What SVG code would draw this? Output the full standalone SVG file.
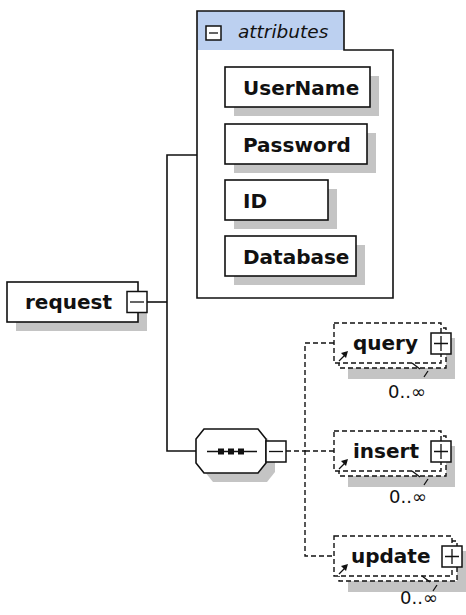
<svg xmlns="http://www.w3.org/2000/svg" width="466" height="615" viewBox="0 0 466 615">
<style>
.bg{fill:#fff}
.box{fill:#fff;stroke:#111;stroke-width:1.6}
.shadow{fill:#c4c4c4}
.dbox{fill:#fff;stroke:#111;stroke-width:1.4;stroke-dasharray:5 3}
.line{stroke:#111;stroke-width:1.6;fill:none}
.dline{stroke:#111;stroke-width:1.4;stroke-dasharray:5 3;fill:none}
.thin{stroke:#111;stroke-width:1.3;fill:none}
.name{font-family:"DejaVu Sans",sans-serif;font-weight:bold;font-size:20px;fill:#111}
.tab{font-family:"DejaVu Sans",sans-serif;font-style:italic;font-size:18.5px;fill:#111}
.occ{font-family:"DejaVu Sans",sans-serif;font-size:18px;fill:#111}
.btn{fill:#fff;stroke:#111;stroke-width:1.5}
</style>
<rect class="bg" x="0" y="0" width="466" height="615"/>

<g id="connectors">
  <polyline class="line" points="147,302 167,302"/>
  <polyline class="line" points="197,155 167,155 167,451 196,451"/>
  <polyline class="dline" points="286,451 305,451"/>
  <polyline class="dline" points="334,343 305,343 305,556 334,556"/>
  <line class="dline" x1="305" y1="451" x2="334" y2="451"/>
</g>

<g id="node-request">
  <rect class="shadow" x="16" y="291" width="131" height="40"/>
  <rect class="box" x="7" y="282" width="131" height="40"/>
  <text class="name" x="25" y="309">request</text>
  <rect class="btn" x="127" y="291.5" width="20" height="21"/>
  <line class="thin" x1="130" y1="302" x2="144" y2="302"/>
</g>

<g id="node-attributes">
  <rect x="197" y="11" width="147" height="39" fill="#bcd0f0"/>
  <path class="line" d="M197,11 H344 V50 H393 V298 H197 Z"/>
  <rect class="btn" x="206" y="26" width="15" height="14"/>
  <line class="thin" x1="209" y1="33" x2="218" y2="33"/>
  <text class="tab" x="238" y="38">attributes</text>
</g>

<g id="node-username">
  <rect class="shadow" x="234" y="76" width="145" height="40"/>
  <rect class="box" x="225" y="67" width="145" height="40"/>
  <text class="name" x="243" y="94.5">UserName</text>
</g>
<g id="node-password">
  <rect class="shadow" x="234" y="133" width="142" height="40"/>
  <rect class="box" x="225" y="124" width="142" height="40"/>
  <text class="name" x="243" y="151.5">Password</text>
</g>
<g id="node-id">
  <rect class="shadow" x="234" y="189" width="103" height="40"/>
  <rect class="box" x="225" y="180" width="103" height="40"/>
  <text class="name" x="243" y="207.5">ID</text>
</g>
<g id="node-database">
  <rect class="shadow" x="234" y="245" width="131" height="40"/>
  <rect class="box" x="225" y="236" width="131" height="40"/>
  <text class="name" x="243" y="263.5">Database</text>
</g>

<g id="node-sequence">
  <polygon class="shadow" points="213,438 267,438 275,448 275,472 267,482 213,482 205,472 205,448"/>
  <polygon class="box" points="204,429 258,429 266,439 266,463 258,473 204,473 196,463 196,439"/>
  <line class="line" x1="207" y1="451.5" x2="257" y2="451.5"/>
  <rect x="218" y="448.5" width="6" height="6" fill="#111"/>
  <rect x="228" y="448.5" width="6" height="6" fill="#111"/>
  <rect x="238" y="448.5" width="6" height="6" fill="#111"/>
  <rect class="btn" x="266" y="441" width="20" height="21"/>
  <line class="thin" x1="269" y1="451.5" x2="283" y2="451.5"/>
</g>

<g id="node-query">
  <rect class="shadow" x="348" y="338" width="107" height="41"/>
  <rect class="dbox" x="339" y="328" width="107" height="40"/>
  <rect class="dbox" x="334" y="323" width="107" height="40"/>
  <text class="name" x="353" y="350">query</text>
  <line class="thin" x1="339" y1="361" x2="345" y2="355"/>
  <polygon points="348,351 341,353 346,358" fill="#111"/>
  <rect class="btn" x="431" y="333" width="20" height="21"/>
  <path class="thin" d="M434,343.5 H448 M441,336 V351"/>
  <path class="thin" d="M412,363 L420,369 M428,371 L424,377"/>
  <text class="occ" x="388" y="398">0..∞</text>
</g>

<g id="node-insert">
  <rect class="shadow" x="348" y="446" width="107" height="41"/>
  <rect class="dbox" x="339" y="436" width="107" height="40"/>
  <rect class="dbox" x="334" y="431" width="107" height="40"/>
  <text class="name" x="353" y="458">insert</text>
  <line class="thin" x1="339" y1="469" x2="345" y2="463"/>
  <polygon points="348,459 341,461 346,466" fill="#111"/>
  <rect class="btn" x="431" y="441" width="20" height="21"/>
  <path class="thin" d="M434,451.5 H448 M441,444 V459"/>
  <path class="thin" d="M412,471 L420,477 M428,479 L424,485"/>
  <text class="occ" x="389" y="503">0..∞</text>
</g>

<g id="node-update">
  <rect class="shadow" x="348" y="551" width="118" height="41"/>
  <rect class="dbox" x="339" y="541" width="118" height="40"/>
  <rect class="dbox" x="334" y="536" width="118" height="40"/>
  <text class="name" x="351" y="563">update</text>
  <line class="thin" x1="339" y1="574" x2="345" y2="568"/>
  <polygon points="348,564 341,566 346,571" fill="#111"/>
  <rect class="btn" x="442" y="546" width="20" height="21"/>
  <path class="thin" d="M445,556.5 H459 M452,549 V564"/>
  <path class="thin" d="M422,576 L430,582 M437,585 L433,591"/>
  <text class="occ" x="400" y="604">0..∞</text>
</g>
</svg>
